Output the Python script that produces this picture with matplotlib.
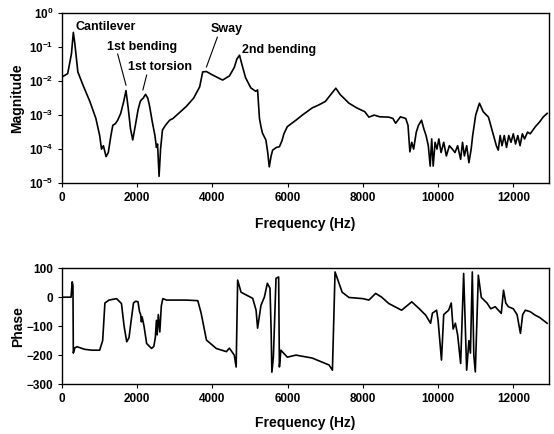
import numpy as np
import matplotlib
matplotlib.use("Agg")
import matplotlib.pyplot as plt
from matplotlib.ticker import LogLocator, NullLocator

plt.rcParams['font.family'] = ['Liberation Sans', 'DejaVu Sans']
plt.rcParams['font.weight'] = 'bold'
plt.rcParams['mathtext.default'] = 'bf'

# ---- magnitude data (frequency Hz, log10 magnitude) ----
mag_freq = [0, 150, 250, 300, 340, 420, 550, 740, 900, 1000, 1050, 1100, 1170, 1230, 1300, 1350,
            1420, 1480, 1560, 1640, 1700, 1760, 1820, 1880, 1950, 2020, 2080, 2110, 2160, 2220,
            2280, 2330, 2400, 2470, 2510, 2540, 2580, 2620, 2670, 2750, 2860, 2950, 3100, 3300,
            3500, 3660, 3740, 3840, 4000, 4270, 4450, 4580, 4650, 4720, 4780, 4880, 5020, 5150,
            5200, 5250, 5290, 5330, 5420, 5470, 5510, 5560, 5600, 5700, 5780, 5850, 5900, 5990,
            6100, 6220, 6390, 6650, 6830, 7000, 7100, 7280, 7400, 7630, 7840, 8050, 8160, 8300,
            8450, 8690, 8800, 8870, 9000, 9140, 9200, 9250, 9300, 9350, 9420, 9480, 9560, 9620,
            9680, 9740, 9790, 9830, 9870, 9920, 9970, 10020, 10080, 10150, 10220, 10300, 10380,
            10450, 10520, 10600, 10650, 10700, 10760, 10820, 10880, 10920, 11000, 11100, 11200,
            11340, 11450, 11550, 11600, 11650, 11700, 11760, 11820, 11880, 11940, 12000, 12060,
            12120, 12180, 12240, 12300, 12380, 12450, 12580, 12700, 12800, 12900]
mag_log10 = [-1.88, -1.78, -1.2, -0.57, -0.9, -1.73, -2.1, -2.6, -3.1, -3.6, -4.0, -3.9, -4.22,
             -4.1, -3.6, -3.3, -3.25, -3.15, -2.95, -2.6, -2.28, -2.8, -3.4, -3.73, -3.3, -2.85,
             -2.6, -2.55, -2.5, -2.39, -2.5, -2.75, -3.2, -3.6, -3.95, -3.85, -4.8, -4.0, -3.44,
             -3.3, -3.15, -3.1, -2.95, -2.75, -2.5, -2.17, -1.73, -1.72, -1.82, -1.97, -1.85,
             -1.6, -1.35, -1.24, -1.5, -1.9, -2.2, -2.3, -2.26, -3.1, -3.34, -3.53, -3.73, -4.1,
             -4.52, -4.2, -4.03, -3.95, -3.93, -3.75, -3.55, -3.34, -3.25, -3.15, -3.0, -2.79,
             -2.7, -2.6, -2.46, -2.21, -2.4, -2.65, -2.79, -2.9, -3.06, -3.0, -3.05, -3.06, -3.1,
             -3.24, -3.05, -3.1, -3.3, -4.08, -3.8, -4.0, -3.5, -3.3, -3.15, -3.4, -3.6, -3.9,
             -4.5, -3.7, -4.5, -3.8, -4.0, -3.7, -4.1, -3.8, -4.2, -3.9, -4.0, -4.1, -3.9, -4.3,
             -3.8, -4.2, -3.9, -4.4, -4.0, -3.6, -3.0, -2.65, -2.9, -3.06, -3.5, -3.9, -4.03,
             -3.6, -3.9, -3.6, -3.95, -3.6, -3.8, -3.55, -3.85, -3.6, -3.9, -3.55, -3.7, -3.5,
             -3.55, -3.35, -3.2, -3.05, -2.95]

# ---- phase data ----
phase_freq = [0, 200, 240, 270, 290, 300, 340, 400, 600, 800, 1000, 1080, 1140, 1250, 1450, 1580,
              1650, 1720, 1780, 1840, 1900, 1960, 2020, 2060, 2090, 2110, 2130, 2180, 2250, 2380,
              2440, 2480, 2510, 2530, 2560, 2600, 2640, 2680, 2780, 3000, 3300, 3610, 3700, 3840,
              4100, 4370, 4450, 4580, 4630, 4670, 4760, 5070, 5160, 5200, 5290, 5380, 5460, 5530,
              5560, 5580, 5620, 5690, 5760, 5780, 5820, 5990, 6220, 6650, 7100, 7190, 7260, 7450,
              7630, 8000, 8160, 8340, 8500, 8690, 9030, 9300, 9500, 9670, 9800, 9850, 9960, 10000,
              10090, 10150, 10280, 10350, 10400, 10460, 10520, 10600, 10680, 10760, 10820, 10860,
              10910, 10950, 10990, 11070, 11150, 11300, 11400, 11520, 11680, 11740, 11800, 11870,
              12000, 12100, 12190, 12250, 12320, 12450, 12580, 12700, 12800, 12900]
phase_deg = [0, 0, 0, 53, 40, -193, -175, -171, -180, -183, -183, -150, -20, -10, -5, -22, -100,
             -154, -140, -79, -20, -14, -16, -50, -60, -85, -68, -100, -160, -177, -170, -140,
             -80, -130, -60, -120, -30, -5, -10, -10, -10, -12, -56, -148, -177, -188, -176,
             -200, -241, 59, 17, -4, -45, -107, -28, 0, 48, 31, -114, -259, -207, 65, 70, -241,
             -183, -207, -200, -210, -234, -252, 87, 17, -1, -5, -10, 13, 0, -22, -45, -16, -40,
             -62, -90, -55, -45, -80, -217, -60, -45, -20, -110, -90, -130, -229, 82, -252, -150,
             -193, 87, -200, -258, 76, -1, -20, -40, -33, -56, 24, -20, -33, -40, -60, -125, -60,
             -45, -50, -62, -70, -80, -90]

xticks = [0, 2000, 4000, 6000, 8000, 10000, 12000]
phase_ticks = [-300, -200, -100, 0, 100]

# annotations: label, text position (freq, magnitude), line start/end (or None)
annotations = [
    ("Cantilever", (370, 0.39), None),
    ("1st bending", (1190, 0.10), ((1480, 0.062), (1700, 0.0076))),
    ("1st torsion", (1750, 0.026), ((2250, 0.015), (2150, 0.0055))),
    ("Sway", (3950, 0.34), ((4130, 0.195), (3840, 0.026))),
    ("2nd bending", (4790, 0.081), None),
]

fig = plt.figure(figsize=(5.54, 4.34), dpi=100)
ax1 = fig.add_axes([0.112, 0.578, 0.879, 0.392])
ax2 = fig.add_axes([0.112, 0.115, 0.879, 0.267])

ax1.plot(mag_freq, 10.0 ** np.array(mag_log10), color='black', lw=1.2)
ax1.set_yscale('log')
ax1.set_ylim(1e-5, 1e0)
ax1.set_xlim(0, 12950)
ax1.yaxis.set_major_locator(LogLocator(base=10, numticks=10))
ax1.yaxis.set_minor_locator(NullLocator())
ax1.set_xticks(xticks)
ax1.set_ylabel("Magnitude", fontsize=10, fontweight='bold', labelpad=3)
ax1.set_xlabel("Frequency (Hz)", fontsize=10, fontweight='bold', labelpad=9)

for label, tpos, line in annotations:
    ax1.text(tpos[0], tpos[1], label, fontsize=9, fontweight='bold', va='center', ha='left')
    if line is not None:
        ax1.plot([line[0][0], line[1][0]], [line[0][1], line[1][1]], color='black', lw=0.8)

ax2.plot(phase_freq, phase_deg, color='black', lw=1.2)
ax2.set_xlim(0, 12950)
ax2.set_ylim(-300, 100)
ax2.set_xticks(xticks)
ax2.set_yticks(phase_ticks)
ax2.set_ylabel("Phase", fontsize=10, fontweight='bold', labelpad=1)
ax2.set_xlabel("Frequency (Hz)", fontsize=10, fontweight='bold', labelpad=8)

for ax in (ax1, ax2):
    ax.tick_params(axis='both', labelsize=8.5, length=3, width=0.8, direction='out')
    for lab in ax.get_xticklabels() + ax.get_yticklabels():
        lab.set_fontweight('bold')
    for s in ax.spines.values():
        s.set_linewidth(1.0)

fig.savefig("out.png", dpi=100)
